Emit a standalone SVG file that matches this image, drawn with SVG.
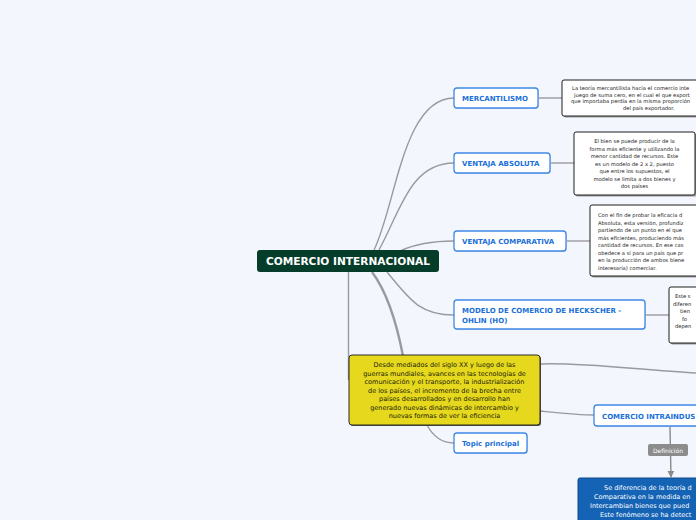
<svg xmlns="http://www.w3.org/2000/svg" width="696" height="520" viewBox="0 0 696 520">
<defs>
<style>
.bg{fill:#f3f6fd}
.conn path,.conn line{fill:none;stroke:#9a9a9e;stroke-width:1.4}
.topic{fill:#ffffff;stroke:#3f88e6;stroke-width:1.3}
.tshadow{fill:#c9d3e6}
.ttext{font-family:"DejaVu Sans",Verdana,sans-serif;font-size:7px;font-weight:bold;fill:#1a6fd8}
.detail{fill:#ffffff;stroke:#1e1e1e;stroke-width:1}
.dshadow{fill:#9a9a9a}
.dtext{font-family:"DejaVu Sans",Verdana,sans-serif;font-size:5.2px;fill:#222}
.ytext{font-family:"DejaVu Sans",Verdana,sans-serif;font-size:6.5px;fill:#22220c}
.btext{font-family:"DejaVu Sans",Verdana,sans-serif;font-size:6.5px;fill:#ffffff}
</style>
<marker id="arr" viewBox="0 0 10 10" refX="9" refY="5" markerWidth="7" markerHeight="7" orient="auto" markerUnits="userSpaceOnUse">
<path d="M0,0 L10,5 L0,10 z" fill="#8a8a8a"/>
</marker>
</defs>
<rect class="bg" x="0" y="0" width="696" height="520"/>

<g id="connectors" class="conn">
<path d="M374,250 C396,205 403,98 454,98"/>
<path d="M379,250 C400,212 410,163 454,163"/>
<path d="M400,251 C415,244 430,241 454,241"/>
<path d="M387,272 C410,300 420,315 454,315"/>
<path d="M372,272 C390,296 398,330 403,356" style="stroke-width:2.4"/>
<line x1="348.5" y1="272" x2="348.5" y2="380"/>
<path d="M540,364 C580,362 640,370 696,373"/>
<path d="M540,411 C560,413 578,415 594,415"/>
<path d="M427,425 C435,440 445,443 454,443"/>
<line x1="538" y1="98" x2="562" y2="98"/>
<line x1="550" y1="163" x2="574" y2="163"/>
<line x1="566" y1="241" x2="590" y2="241"/>
<line x1="645" y1="315" x2="669" y2="315"/>
<line x1="670" y1="427" x2="671" y2="477" marker-end="url(#arr)" style="stroke:#8a8a8a"/>
</g>

<g id="root">
<rect x="257" y="250" width="182" height="22" rx="3" fill="#053c2a"/>
<text x="348" y="265" text-anchor="middle" font-family="'DejaVu Sans',Verdana,sans-serif" font-size="10.6" font-weight="bold" fill="#ffffff">COMERCIO INTERNACIONAL</text>
</g>

<g id="mercantilismo">
<rect class="tshadow" x="455" y="89" width="84" height="20" rx="3"/>
<rect class="topic" x="454" y="88" width="84" height="20" rx="3"/>
<text class="ttext" x="462" y="101">MERCANTILISMO</text>
</g>
<g id="mercantilismo-detalle">
<rect class="dshadow" x="563.5" y="81.5" width="150" height="36" rx="2"/>
<rect class="detail" x="562" y="80" width="150" height="36" rx="2"/>
<text class="dtext" x="572" y="90">La teoría mercantilista hacía el comercio inte</text>
<text class="dtext" x="574" y="96.5">juego de suma cero, en el cual el que export</text>
<text class="dtext" x="571" y="103">que importaba perdía en la misma proporción</text>
<text class="dtext" x="623" y="109.5">del país exportador.</text>
</g>

<g id="ventaja-absoluta">
<rect class="tshadow" x="455" y="154" width="96" height="20" rx="3"/>
<rect class="topic" x="454" y="153" width="96" height="20" rx="3"/>
<text class="ttext" x="462" y="166">VENTAJA ABSOLUTA</text>
</g>
<g id="ventaja-absoluta-detalle">
<rect class="dshadow" x="575.5" y="133.5" width="121" height="63" rx="2"/>
<rect class="detail" x="574" y="132" width="121" height="63" rx="2"/>
<g class="dtext" text-anchor="middle">
<text x="634.5" y="143">El bien se puede producir de la</text>
<text x="634.5" y="150.5">forma más eficiente y utilizando la</text>
<text x="634.5" y="158">menor cantidad de recursos. Este</text>
<text x="634.5" y="165.5">es un modelo de 2 x 2, puesto</text>
<text x="634.5" y="173">que entre los supuestos, el</text>
<text x="634.5" y="180.5">modelo se limita a dos bienes y</text>
<text x="634.5" y="188">dos países</text>
</g>
</g>

<g id="ventaja-comparativa">
<rect class="tshadow" x="455" y="232" width="112" height="20" rx="3"/>
<rect class="topic" x="454" y="231" width="112" height="20" rx="3"/>
<text class="ttext" x="462" y="244">VENTAJA COMPARATIVA</text>
</g>
<g id="ventaja-comparativa-detalle">
<rect class="dshadow" x="591.5" y="206.5" width="120" height="71" rx="2"/>
<rect class="detail" x="590" y="205" width="120" height="71" rx="2"/>
<g class="dtext">
<text x="598" y="217">Con el fin de probar la eficacia d</text>
<text x="598" y="224.5">Absoluta, esta versión, profundiz</text>
<text x="598" y="232">partiendo de un punto en el que</text>
<text x="598" y="239.5">más eficientes, produciendo más</text>
<text x="598" y="247">cantidad de recursos. En ese cas</text>
<text x="598" y="254.5">obedece a sí para un país que pr</text>
<text x="598" y="262">en la producción de ambos biene</text>
<text x="598" y="269.5">interesaría) comerciar.</text>
</g>
</g>

<g id="modelo-ho">
<rect class="tshadow" x="455" y="301" width="191" height="29" rx="3"/>
<rect class="topic" x="454" y="300" width="191" height="29" rx="3"/>
<text class="ttext" x="462" y="313">MODELO DE COMERCIO DE HECKSCHER -</text>
<text class="ttext" x="462" y="322.5">OHLIN (HO)</text>
</g>
<g id="modelo-ho-detalle">
<rect class="dshadow" x="670.5" y="288.5" width="40" height="56" rx="2"/>
<rect class="detail" x="669" y="287" width="40" height="56" rx="2"/>
<g class="dtext">
<text x="675" y="298">Este s</text>
<text x="673" y="305.5">diferen</text>
<text x="680" y="313">tien</text>
<text x="682" y="320.5">fo</text>
<text x="675" y="328">depen</text>
</g>
</g>

<g id="contexto">
<rect x="350" y="356" width="191" height="70" rx="3" fill="#555"/>
<rect x="349" y="355" width="191" height="70" rx="3" fill="#e5d81d" stroke="#2b2b2b" stroke-width="1"/>
<g class="ytext" text-anchor="middle">
<text x="444.5" y="367">Desde mediados del siglo XX y luego de las</text>
<text x="444.5" y="375.5">guerras mundiales, avances en las tecnologías de</text>
<text x="444.5" y="384">comunicación y el transporte, la industrialización</text>
<text x="444.5" y="392.5">de los países, el incremento de la brecha entre</text>
<text x="444.5" y="401">países desarrollados y en desarrollo han</text>
<text x="444.5" y="409.5">generado nuevas dinámicas de intercambio y</text>
<text x="444.5" y="418">nuevas formas de ver la eficiencia</text>
</g>
</g>

<g id="topic-principal">
<rect class="tshadow" x="455" y="434" width="73" height="20" rx="3"/>
<rect class="topic" x="454" y="433" width="73" height="20" rx="3"/>
<text class="ttext" x="462" y="446">Topic principal</text>
</g>

<g id="comercio-intraindustrial">
<rect class="tshadow" x="595" y="406" width="120" height="21" rx="3"/>
<rect class="topic" x="594" y="405" width="120" height="21" rx="3"/>
<text class="ttext" x="602" y="418.5">COMERCIO INTRAINDUS</text>
</g>

<g id="definicion">
<rect x="648" y="444" width="40" height="12" rx="2" fill="#8c8c8c"/>
<text x="668" y="452.5" text-anchor="middle" font-family="'DejaVu Sans',Verdana,sans-serif" font-size="6" fill="#ffffff">Definición</text>
</g>

<g id="comercio-intraindustrial-detalle">
<rect x="578" y="478" width="130" height="50" rx="2" fill="#1463b5" stroke="#0d4c8c" stroke-width="1"/>
<g class="btext">
<text x="604" y="490">Se diferencia de la teoría d</text>
<text x="594" y="499">Comparativa en la medida en</text>
<text x="590" y="508">Intercambian bienes que pued</text>
<text x="600" y="517">Este fenómeno se ha detect</text>
</g>
</g>
</svg>
